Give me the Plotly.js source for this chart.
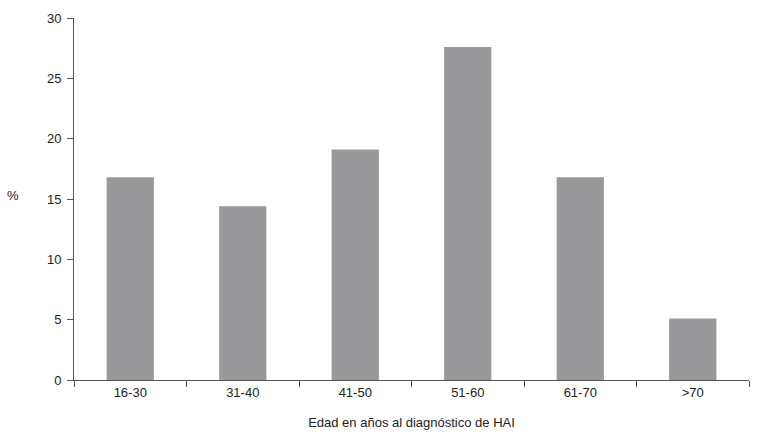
<!DOCTYPE html>
<html>
<head>
<meta charset="utf-8">
<script src="https://cdn.plot.ly/plotly-3.0.1.min.js"></script>
<style>
  html, body { margin: 0; padding: 0; background: #fff; }
  #chart { width: 768px; height: 443px; }
</style>
</head>
<body>
<div id="chart"></div>
<script>
// Age groups at diagnosis and share of patients (%)
const ageGroups = ['16-30', '31-40', '41-50', '51-60', '61-70', '>70'];
const percent = [16.8, 14.4, 19.1, 27.6, 16.8, 5.1];
const yTicks = [0, 5, 10, 15, 20, 25, 30];

const axisColor = '#555555';
const textColor = '#222222';

const data = [{
    type: 'bar',
    x: ageGroups,
    y: percent,
    width: 0.42,
    marker: { color: '#99999b', line: { width: 0 } },
    hoverinfo: 'x+y'
}];

const layout = {
    width: 768,
    height: 443,
    margin: { l: 74, r: 19, t: 18, b: 63 },
    paper_bgcolor: '#ffffff',
    plot_bgcolor: '#ffffff',
    font: { family: 'Liberation Sans, Arial, sans-serif', size: 13, color: textColor },
    showlegend: false,
    xaxis: {
        type: 'category',
        showline: true,
        linecolor: axisColor,
        linewidth: 1,
        ticks: 'outside',
        tickson: 'boundaries',
        ticklen: 6,
        tickcolor: axisColor,
        showgrid: false,
        zeroline: false,
        tickfont: { size: 13, color: textColor },
        title: { text: 'Edad en años al diagnóstico de HAI', font: { size: 13, color: textColor }, standoff: 19 }
    },
    yaxis: {
        range: [0, 30],
        tickvals: yTicks,
        showline: true,
        linecolor: axisColor,
        linewidth: 1,
        ticks: 'outside',
        ticklen: 6,
        tickcolor: axisColor,
        ticklabelstandoff: 3,
        showgrid: false,
        zeroline: false,
        tickfont: { size: 13, color: textColor }
    },
    annotations: [{
        text: '%',
        xref: 'paper',
        yref: 'paper',
        x: -0.09,
        y: 0.511,
        xanchor: 'center',
        yanchor: 'middle',
        showarrow: false,
        font: { size: 13, color: textColor }
    }]
};

Plotly.newPlot('chart', data, layout, { displayModeBar: false, staticPlot: true });
</script>
</body>
</html>
